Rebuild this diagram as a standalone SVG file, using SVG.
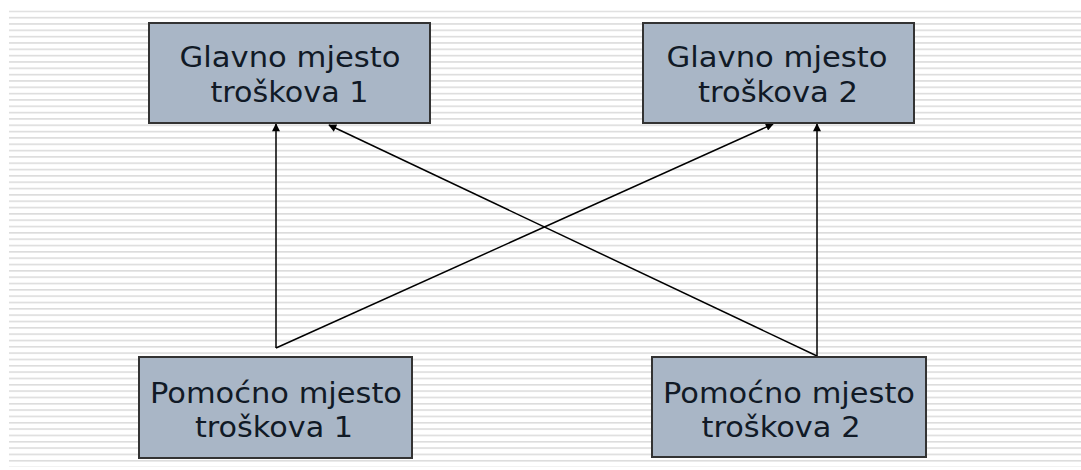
<svg xmlns="http://www.w3.org/2000/svg" width="1081" height="470" viewBox="0 0 1081 470">
  <defs>
    <pattern id="stripes" patternUnits="userSpaceOnUse" x="0" y="10.5" width="20" height="6.33">
      <rect x="0" y="0" width="20" height="1.6" fill="#dcdcdc"/>
    </pattern>
    <marker id="arrow" viewBox="0 0 10 10" refX="9" refY="5" markerWidth="9" markerHeight="8" markerUnits="userSpaceOnUse" orient="auto">
      <path d="M0,0 L10,5 L0,10 z" fill="#000"/>
    </marker>
  </defs>
  <style>
    .box { fill: #a9b6c6; stroke: #333; stroke-width: 2; }
    .label { font-family: "DejaVu Sans", Verdana, sans-serif; font-size: 28px; fill: #111a26; text-anchor: middle; }
    .conn { stroke: #000; stroke-width: 1.5; fill: none; marker-end: url(#arrow); }
  </style>
  <rect width="1081" height="470" fill="#fff"/>
  <rect x="9" y="10.5" width="1072" height="456" fill="url(#stripes)"/>

  <g id="connectors">
    <line class="conn" x1="276" y1="348" x2="276" y2="124"/>
    <line class="conn" x1="276" y1="348" x2="773" y2="124"/>
    <line class="conn" x1="817" y1="356" x2="817" y2="124"/>
    <line class="conn" x1="817" y1="356" x2="329" y2="125"/>
  </g>

  <g id="glavno1">
    <rect class="box" x="149" y="23" width="281" height="100"/>
    <text class="label" x="290" y="67" textLength="221" lengthAdjust="spacingAndGlyphs">Glavno mjesto</text>
    <text class="label" x="289.5" y="102" textLength="158" lengthAdjust="spacingAndGlyphs">troškova 1</text>
  </g>

  <g id="glavno2">
    <rect class="box" x="643" y="23" width="271" height="100"/>
    <text class="label" x="777" y="67" textLength="221" lengthAdjust="spacingAndGlyphs">Glavno mjesto</text>
    <text class="label" x="778" y="102" textLength="160" lengthAdjust="spacingAndGlyphs">troškova 2</text>
  </g>

  <g id="pomocno1">
    <rect class="box" x="139" y="357" width="273" height="101"/>
    <text class="label" x="276" y="403" textLength="252" lengthAdjust="spacingAndGlyphs">Pomoćno mjesto</text>
    <text class="label" x="274" y="437" textLength="158" lengthAdjust="spacingAndGlyphs">troškova 1</text>
  </g>

  <g id="pomocno2">
    <rect class="box" x="652" y="357" width="274" height="100"/>
    <text class="label" x="789" y="403" textLength="252" lengthAdjust="spacingAndGlyphs">Pomoćno mjesto</text>
    <text class="label" x="781" y="437" textLength="159" lengthAdjust="spacingAndGlyphs">troškova 2</text>
  </g>
</svg>
